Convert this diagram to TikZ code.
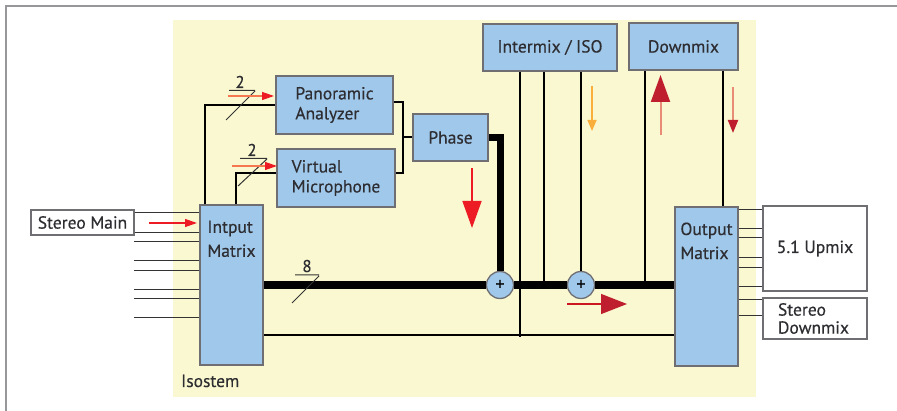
\documentclass[tikz,border=0pt]{standalone}
\usepackage{fontspec}
\setmainfont{PT Sans}[FakeBold=0.35]
\usetikzlibrary{arrows.meta}
\definecolor{bg}{RGB}{250,248,208}
\definecolor{boxblue}{RGB}{160,200,234}
\definecolor{edge}{RGB}{110,110,115}
\definecolor{framegray}{RGB}{150,150,155}
\definecolor{txt}{RGB}{45,45,50}
\definecolor{darkred}{RGB}{190,30,45}
\definecolor{arrowred}{RGB}{237,28,36}
\definecolor{arroworange}{RGB}{250,175,60}
\definecolor{pinkshaft}{RGB}{232,140,120}
\definecolor{orangeshaft}{RGB}{245,120,80}
\newcommand{\fsz}{\fontsize{17.5}{20}\selectfont}
\newcommand{\fszm}{\fontsize{17.5}{24}\selectfont}
\begin{document}
\begin{tikzpicture}[x=1pt,y=-1pt,
  blk/.style={draw=edge, line width=1.3pt, fill=boxblue, inner sep=0pt, align=left, font=\fsz, text=txt},
  wbox/.style={draw=edge, line width=1.3pt, fill=white, inner sep=0pt, align=left, font=\fsz, text=txt},
  conn/.style={line width=2pt, black},
  thin/.style={line width=1pt, black!80},
  bus/.style={line width=8pt, black},
  busslash/.style={line width=1pt, black!80},
  adder/.style={circle, draw=edge, line width=1.3pt, fill=boxblue, minimum size=27pt, inner sep=0pt, font=\fontsize{18}{18}\selectfont},
  mlabel/.style={anchor=north, inner sep=0pt, align=left, font=\fszm, text=txt, yshift=-16pt}
]
\useasboundingbox (0,0) rectangle (897,411);
% frame and background
\draw[framegray, line width=2pt] (6,411) -- (6,6) -- (897,6);
\fill[bg] (173,20) rectangle (756,397);
\node[anchor=base west, inner sep=0pt, font=\fsz, text=txt] (iso) at (181,387) {Isostem};

% boxes
\node[blk, minimum width=117pt, minimum height=58pt] (pan) at (334.5,105) {Panoramic\\Analyzer};
\node[blk, minimum width=118pt, minimum height=58pt] (vm) at (336,178) {Virtual\\Microphone};
\node[blk, minimum width=75pt, minimum height=47pt] (phase) at (450.5,137.5) {Phase};
\node[blk, minimum width=134pt, minimum height=47pt] (inter) at (550,47.5) {Intermix / ISO};
\node[blk, minimum width=109pt, minimum height=47pt] (down) at (683.5,46.5) {Downmix};
\node[blk, minimum width=63pt, minimum height=160pt,
  label={[mlabel]north:{Intput\\Matrix}}] (inm) at (231.5,285) {};
\node[blk, minimum width=63pt, minimum height=159pt,
  label={[mlabel]north:{Output\\Matrix}}] (outm) at (706.5,286.5) {};
\node[wbox, minimum width=104pt, minimum height=85pt] (up51) at (815,248.5) {5.1 Upmix};
\node[wbox, minimum width=104pt, minimum height=41pt, text width=74pt] (sdm) at (815,318.5) {Stereo\\[-2pt]Downmix};
\node[wbox, minimum width=103pt, minimum height=25pt, align=center] (smain) at (82.5,222.5) {Stereo Main};
\node[adder] (add1) at (500,285) {+};
\node[adder] (add2) at (581,285) {+};

% input lines
\draw[thin] ([yshift=-3pt]smain.north east) -- ([yshift=-3pt]smain.north east -| inm.west);
\draw[thin] ([yshift=3pt]smain.south east) -- ([yshift=3pt]smain.south east -| inm.west);
\foreach \yy [count=\i] in {242,261,271,290,299,318} {
  \coordinate (in\i) at (134,\yy);
  \draw[thin] (in\i) -- (in\i -| inm.west);
}
% output lines
\foreach \yy in {210,229,238,258,268,287} {
  \draw[thin] (outm.east |- 0,\yy) -- (up51.west |- 0,\yy);
}
\foreach \yy in {300,316} {
  \draw[thin] (outm.east |- 0,\yy) -- (sdm.west |- 0,\yy);
}

% connectors to analyzer / microphone
\draw[conn] ([xshift=6pt]inm.north west) |- (pan.west);
\draw[conn] ([xshift=37pt]inm.north west) |- ([yshift=5pt]vm.west);
\coordinate (join) at (403,137.5);
\draw[conn] ([yshift=3pt]pan.east) -| (join) |- ([yshift=5pt]vm.east);
\draw[conn] (join) -- (phase.west);

% bus
\draw[bus] (inm.east) -- (add1.west);
\draw[bus] (add1.east) -- (add2.west);
\draw[bus] (add2.east) -- (add2.east -| outm.west);
\draw[line width=7pt] (phase.east) -| (add1.north);
\coordinate (low) at ([yshift=-50pt]inm.east);
\draw[conn] (low) -- (low -| outm.west);

% verticals from Intermix / Downmix
\draw[conn] ([xshift=-30pt]inter.south) -- ([xshift=-30pt,yshift=-2pt]inter.south |- low);
\draw[conn] ([xshift=-6pt]inter.south) -- ([xshift=-6pt]inter.south |- add1.center);
\draw[conn] (add2.north |- inter.south) -- (add2.north);
\draw[conn] ([xshift=-38.5pt]down.south) -- ([xshift=-38.5pt]down.south |- add2.center);
\draw[conn] ([xshift=39.5pt]down.south) -- ([xshift=39.5pt]down.south |- outm.north);

% bus width marks
\draw[busslash] (226,120) -- (255,91) (229,90.5) -- (255,90.5);
\node[font=\fontsize{17}{17}\selectfont, text=txt, anchor=base] (n2a) at (240,88) {2};
\draw[busslash] (238,186) -- (267,159) (240,158.5) -- (267,158.5);
\node[font=\fontsize{17}{17}\selectfont, text=txt, anchor=base] (n2b) at (252,156) {2};
\draw[busslash] (292,303) -- (319,276) (295,275) -- (319,275);
\node[font=\fontsize{17}{17}\selectfont, text=txt, anchor=base] (n8) at (307,272) {8};

% signal-flow arrows
\draw[orangeshaft, line width=1.2pt, -{Triangle[length=12pt,width=8pt,color=arrowred]}] (228,96) -- (274,96);
\draw[orangeshaft, line width=1.2pt, -{Triangle[length=12pt,width=8pt,color=arrowred]}] (232,166) -- (277,166);
\draw[arrowred, line width=1.2pt, -{Triangle[length=12pt,width=8pt]}] (149,223) -- (197,223);
\draw[arrowred, line width=1.5pt, -{Triangle[length=27pt,width=19pt]}] (472,168) -- (472,228);
\draw[arroworange, line width=1.5pt, -{Triangle[length=11pt,width=9pt]}] (592,86) -- (592,131);
\draw[pinkshaft, line width=2pt, -{Triangle[length=27pt,width=19pt,color=darkred]}] (660.5,135) -- (660.5,75);
\draw[pinkshaft, line width=2pt, -{Triangle[length=13pt,width=10pt,color=darkred]}] (733,87) -- (733,133);
\draw[arrowred!85!black, line width=1.3pt, -{Triangle[length=26pt,width=20pt,color=darkred]}] (567,304) -- (627,304);
\end{tikzpicture}
\end{document}
